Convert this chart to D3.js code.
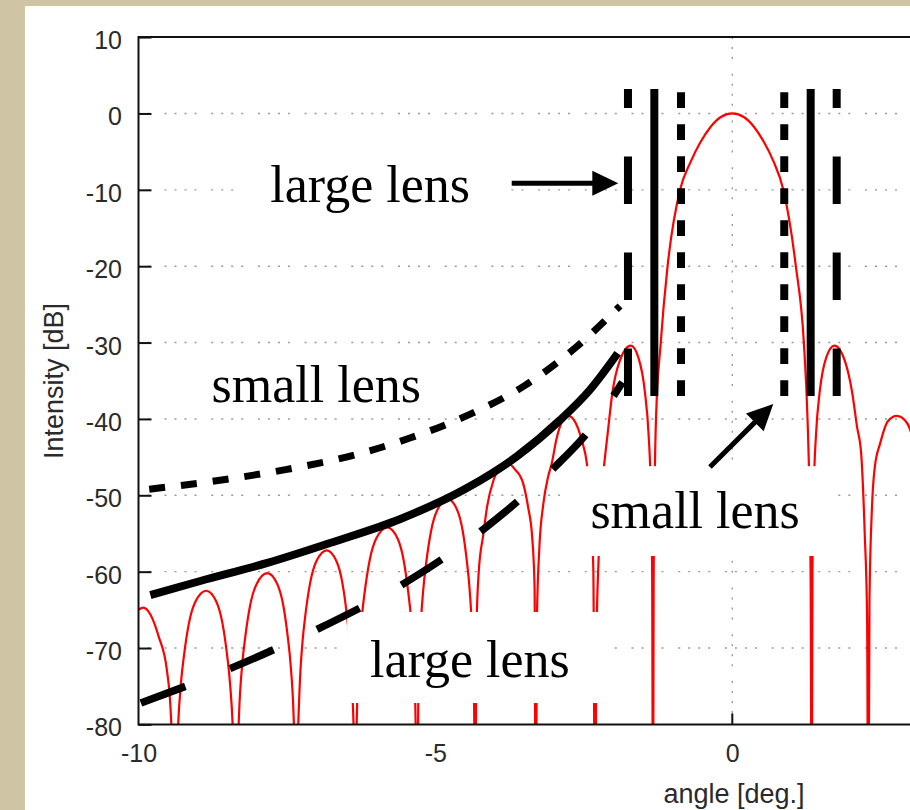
<!DOCTYPE html>
<html><head><meta charset="utf-8">
<script src="https://cdn.jsdelivr.net/npm/d3@7"></script>
<style>html,body{margin:0;padding:0;background:#cec3a2;overflow:hidden}</style>
</head><body>
<svg id="chart" width="910" height="810"></svg>
<script>
// ---------------- data ----------------
const xTicks = [-10, -5, 0];
const yTicks = [10, 0, -10, -20, -30, -40, -50, -60, -70, -80];
const xGridValues = [0, 5];
const yGridValues = [0, -10, -20, -30, -40, -50, -60, -70];

// far-field intensity pattern [angle (deg), intensity (dB)]; nulls read as "below -80"
const intensity = [
  [-10.00,-65.0],[-9.92,-64.7],[-9.80,-65.6],[-9.66,-68.5],[-9.52,-73.0],[-9.46,-78.0],[-9.42,-86.0],[-9.39,-100],
  [-9.369,-89.5],[-9.337,-81],[-9.284,-74.5],[-9.231,-70.8],[-9.152,-66.8],[-9.046,-64],[-8.86,-62.5],[-8.685,-64],[-8.585,-66.8],[-8.51,-70.8],[-8.46,-74.5],[-8.41,-81],[-8.38,-89.5],[-8.36,-100],
  [-8.339,-87.2],[-8.307,-78.7],[-8.254,-72.2],[-8.201,-68.5],[-8.122,-64.5],[-8.016,-61.7],[-7.83,-60.2],[-7.659,-61.7],[-7.56,-64.5],[-7.487,-68.5],[-7.438,-72.2],[-7.389,-78.7],[-7.36,-87.2],[-7.34,-100],
  [-7.32,-84.2],[-7.289,-75.7],[-7.238,-69.2],[-7.187,-65.5],[-7.11,-61.5],[-7.009,-58.7],[-6.83,-57.2],[-6.662,-58.7],[-6.566,-61.5],[-6.494,-65.5],[-6.446,-69.2],[-6.398,-75.7],[-6.369,-84.2],[-6.35,-100],
  [-6.328,-81.2],[-6.296,-72.7],[-6.242,-66.2],[-6.188,-62.5],[-6.107,-58.5],[-5.999,-55.7],[-5.81,-54.2],[-5.635,-55.7],[-5.535,-58.5],[-5.46,-62.5],[-5.41,-66.2],[-5.36,-72.7],[-5.33,-81.2],[-5.31,-100],
  [-5.289,-77.5],[-5.258,-69.0],[-5.206,-62.5],[-5.154,-58.8],[-5.076,-54.8],[-4.972,-52.0],[-4.79,-50.5],[-4.629,-52.0],[-4.537,-54.8],[-4.468,-58.8],[-4.422,-62.5],[-4.376,-69.0],[-4.348,-77.5],[-4.33,-100],
  [-4.31,-68],[-4.27,-60],[-4.19,-55],[-4.13,-51.5],[-4.02,-48],[-3.90,-46.3],[-3.78,-45.8],[-3.66,-46.6],[-3.52,-48.5],[-3.44,-51.5],[-3.37,-55.5],[-3.33,-62],[-3.31,-100],
  [-3.29,-66],[-3.25,-57],[-3.18,-51],[-3.10,-47.5],[-3.04,-45.8],[-2.96,-42.6],[-2.87,-40.4],[-2.76,-39.6],[-2.64,-40.5],[-2.535,-42.8],[-2.45,-45.8],[-2.38,-52],[-2.34,-60],[-2.31,-100],
  [-2.29,-70],[-2.25,-58],[-2.18,-48],[-2.10,-42],[-2.02,-36.6],[-1.90,-32.5],[-1.71,-30.4],[-1.58,-32],[-1.47,-36.6],[-1.41,-42],[-1.37,-50],[-1.35,-60],[-1.335,-100],
  [-1.325,-62],[-1.31,-50],[-1.285,-40],[-1.205,-30],[-1.09,-20],[-0.88,-10],[-0.70,-6.3],[-0.54,-3.8],[-0.37,-1.8],[-0.20,-0.5],[0,0],
  [0.20,-0.5],[0.37,-1.8],[0.53,-3.7],[0.69,-6.2],[0.86,-10],[1.07,-20],[1.205,-30],[1.267,-40],[1.30,-50],[1.32,-62],[1.337,-100],
  [1.35,-60],[1.37,-50],[1.41,-42],[1.47,-36.6],[1.58,-32],[1.72,-30.4],[1.90,-32.5],[2.02,-36.6],[2.10,-41],[2.17,-44.5],[2.23,-55],[2.27,-66],[2.29,-100],
  [2.31,-64],[2.35,-52],[2.40,-46.3],[2.49,-43.2],[2.62,-40.3],[2.77,-39.6],[2.94,-40.5],[3.05,-43],[3.15,-48],[3.25,-58],[3.30,-100]
];

// hand-drawn envelopes [angle, dB]
const smallLensEnvelope = [[-9.82,-49.2],[-8.6,-48.0],[-7.5,-46.6],[-6.45,-44.9],[-5.43,-42.5],[-4.45,-39.5],[-3.49,-35.6],[-2.63,-30.6],[-1.89,-25.2]];
const midEnvelope = [[-9.80,-63.06],[-8.96,-61.22],[-7.83,-58.86],[-6.72,-56.11],[-5.59,-53.10],[-4.47,-49.05],[-3.62,-44.85],[-2.90,-40.14],[-2.40,-36.21],[-1.93,-31.4]];
const largeLensEnvelope = [[-9.96,-77.2],[-8.43,-72.6],[-6.95,-67.4],[-5.52,-61.5],[-4.20,-54.5],[-2.99,-46.3],[-2.43,-41.7],[-1.85,-35.2]];

// vertical lens limits
const lensLineAngles = [-1.757, -1.313, -0.864, 0.875, 1.320, 1.758];
const lensLineKinds  = ['large', 'limit', 'small', 'small', 'limit', 'large'];
const lensLineRange  = [-37.0, 3.2];

// annotations
const labelTexts  = ['large lens', 'small lens', 'small lens', 'large lens'];
const labelAngles = [-7.78, -8.77, -2.39, -6.10];
const labelDbs    = [-11.63, -37.74, -54.32, -73.83];
const boxX0 = [-8.375, -2.901, -6.487];
const boxX1 = [-3.746, 1.695, -2.059];
const boxTopDb = [-5.43, -46.19, -65.28];
const boxBotDb = [-14.21, -57.95, -77.20];
const arrowFrom = [[-3.715, -9.14], [-0.376, -46.29]];
const arrowTo   = [[-1.920, -9.14], [0.690, -38.04]];

// ---------------- drawing ----------------
const svg = d3.select('#chart');
const L = 138.5, T = 37.1, B = 724.4, R = 138.5 + 20 * 59.38;
const x = d3.scaleLinear().domain([-10, 10]).range([L, R]);
const y = d3.scaleLinear().domain([-80, 10]).range([B, T]);

// panel
svg.append('rect').attr('x', 0).attr('y', 0).attr('width', 910).attr('height', 810).attr('fill', '#cfc4a4');
svg.append('rect').attr('x', 25).attr('y', 6).attr('width', 900).attr('height', 810).attr('fill', '#ffffff');

svg.append('defs').append('clipPath').attr('id', 'plotclip')
  .append('rect').attr('x', L).attr('y', T).attr('width', R - L).attr('height', B - T);

const gridDash = '2 8 2 8 2 8 2 14.7';
const grid = svg.append('g');
grid.selectAll('line.h').data(yGridValues).join('line')
  .attr('x1', L).attr('x2', R).attr('y1', d => y(d)).attr('y2', d => y(d))
  .attr('stroke', '#9a9a9a').attr('stroke-width', 1.4)
  .attr('stroke-dasharray', gridDash).attr('stroke-dashoffset', 20.7);
grid.selectAll('line.v').data(xGridValues).join('line')
  .attr('x1', d => x(d)).attr('x2', d => x(d)).attr('y1', T).attr('y2', B)
  .attr('stroke', '#9a9a9a').attr('stroke-width', 1.4)
  .attr('stroke-dasharray', gridDash).attr('stroke-dashoffset', 10);

// intensity curve
const line = d3.line().x(d => x(d[0])).y(d => y(d[1])).curve(d3.curveMonotoneX);
svg.append('path').datum(intensity).attr('clip-path', 'url(#plotclip)')
  .attr('d', line).attr('fill', 'none').attr('stroke', '#ff0000').attr('stroke-width', 2.2);

// white label boxes
svg.append('g').selectAll('rect').data(boxX0).join('rect')
  .attr('x', d => x(d)).attr('width', (d, i) => x(boxX1[i]) - x(d))
  .attr('y', (d, i) => y(boxTopDb[i])).attr('height', (d, i) => y(boxBotDb[i]) - y(boxTopDb[i]))
  .attr('fill', '#ffffff');

// envelopes
const env = d3.line().x(d => x(d[0])).y(d => y(d[1])).curve(d3.curveMonotoneX);
svg.append('path').datum(smallLensEnvelope).attr('d', env).attr('fill', 'none')
  .attr('stroke', '#000').attr('stroke-width', 7).attr('stroke-dasharray', '16 16');
svg.append('path').datum(midEnvelope).attr('d', env).attr('fill', 'none')
  .attr('stroke', '#000').attr('stroke-width', 8);
svg.append('path').datum(largeLensEnvelope).attr('d', env).attr('fill', 'none')
  .attr('stroke', '#000').attr('stroke-width', 7.5).attr('stroke-dasharray', '47.5 48');

// vertical lens lines (drawn bottom to top)
const dashFor = {large: '47.5 48.5', limit: null, small: '15.7 16.3'};
svg.append('g').selectAll('line').data(lensLineAngles).join('line')
  .attr('x1', d => x(d)).attr('x2', d => x(d))
  .attr('y1', y(lensLineRange[0])).attr('y2', y(lensLineRange[1]))
  .attr('stroke', '#000').attr('stroke-width', 8)
  .attr('stroke-dasharray', (d, i) => dashFor[lensLineKinds[i]]);

// arrows
const ag = svg.append('g');
arrowFrom.forEach((f, i) => {
  const x0 = x(f[0]), y0 = y(f[1]), x1 = x(arrowTo[i][0]), y1 = y(arrowTo[i][1]);
  const len = Math.hypot(x1 - x0, y1 - y0), ux = (x1 - x0) / len, uy = (y1 - y0) / len;
  const hl = 26, hw = 12.5;
  const bx = x1 - ux * hl, by = y1 - uy * hl;
  ag.append('line').attr('x1', x0).attr('y1', y0).attr('x2', bx + ux * 2).attr('y2', by + uy * 2)
    .attr('stroke', '#000').attr('stroke-width', 5);
  ag.append('path').attr('d', `M${x1},${y1}L${bx - uy * hw},${by + ux * hw}L${bx + uy * hw},${by - ux * hw}Z`)
    .attr('fill', '#000');
});

// labels
svg.append('g').selectAll('text').data(labelTexts).join('text')
  .attr('x', (d, i) => x(labelAngles[i])).attr('y', (d, i) => y(labelDbs[i]))
  .attr('font-family', '"Liberation Serif", "Times New Roman", serif').attr('font-size', 52)
  .attr('fill', '#000').text(d => d);

// frame
svg.append('path').attr('d', `M${R},${T}H${L}V${B}H${R}`).attr('fill', 'none')
  .attr('stroke', '#111').attr('stroke-width', 2);

// y axis
const yAxis = d3.axisLeft(y).tickValues(yTicks).tickFormat(d => String(d))
  .tickSizeInner(-13).tickSizeOuter(0).tickPadding(16.5);
const gy = svg.append('g').attr('transform', `translate(${L},0)`).call(yAxis);
gy.select('.domain').remove();
gy.selectAll('line').attr('stroke', '#111').attr('stroke-width', 2);
gy.selectAll('text').attr('font-family', '"Liberation Sans", Arial, sans-serif').attr('font-size', 25)
  .attr('fill', '#2a2a2a').attr('dy', '0.46em');

// x axis
const xAxis = d3.axisBottom(x).tickValues(xTicks).tickFormat(d => String(d)).tickSize(0).tickPadding(20);
const gx = svg.append('g').attr('transform', `translate(0,${B})`).call(xAxis);
gx.select('.domain').remove();
gx.selectAll('text').attr('font-family', '"Liberation Sans", Arial, sans-serif').attr('font-size', 25)
  .attr('fill', '#2a2a2a');
svg.append('g').selectAll('line').data(xGridValues).join('line')
  .attr('x1', d => x(d)).attr('x2', d => x(d)).attr('y1', B).attr('y2', B - 11)
  .attr('stroke', '#111').attr('stroke-width', 2);

// axis titles
svg.append('text').attr('transform', 'translate(63,381) rotate(-90)').attr('text-anchor', 'middle')
  .attr('font-family', '"Liberation Sans", Arial, sans-serif').attr('font-size', 27).attr('fill', '#2a2a2a')
  .text('Intensity [dB]');
svg.append('text').attr('x', 734).attr('y', 803).attr('text-anchor', 'middle')
  .attr('font-family', '"Liberation Sans", Arial, sans-serif').attr('font-size', 27).attr('fill', '#2a2a2a')
  .text('angle [deg.]');
</script>
</body></html>
